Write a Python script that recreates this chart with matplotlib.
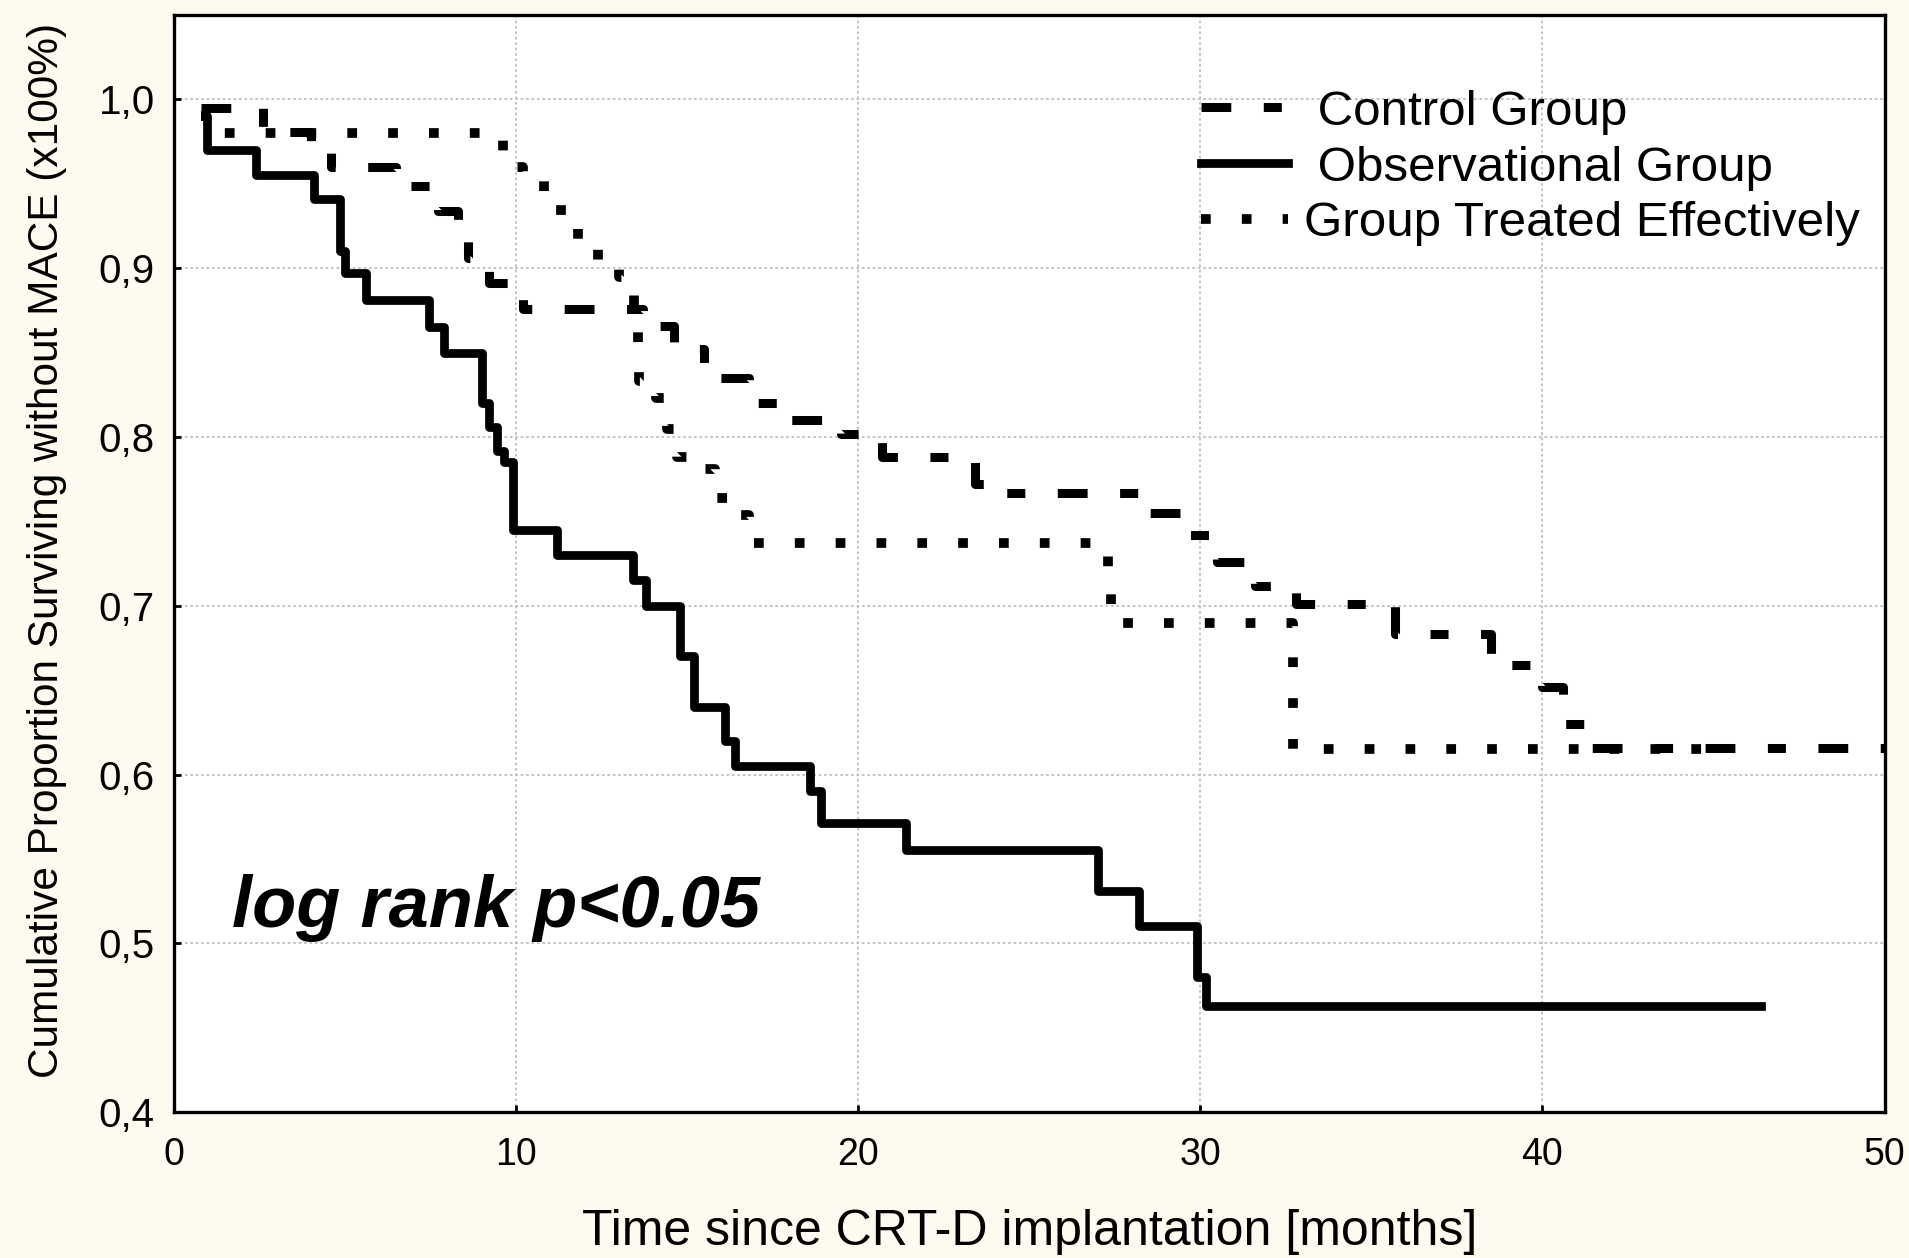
import matplotlib
matplotlib.use('Agg')
import matplotlib.pyplot as plt

plt.rcParams['font.family'] = ['Liberation Sans', 'DejaVu Sans']

# Observational Group (solid)
obs_t = [0.9, 0.95, 2.4, 4.1, 4.85, 5.0, 5.6, 7.45, 7.9, 9.0, 9.2, 9.45, 9.65, 9.9,
         11.2, 13.4, 13.8, 14.8, 15.2, 16.1, 16.4, 18.6, 18.9, 21.4, 27.0, 28.2,
         29.9, 30.15, 46.4]
obs_v = [0.99, 0.97, 0.955, 0.941, 0.91, 0.897, 0.881, 0.865, 0.85, 0.82, 0.806,
         0.792, 0.785, 0.745, 0.73, 0.715, 0.70, 0.67, 0.64, 0.62, 0.605, 0.59,
         0.571, 0.555, 0.531, 0.51, 0.48, 0.463, 0.463]

# Control Group (dash-dot)
ctrl_t = [0.8, 2.6, 4.0, 4.6, 6.5, 7.7, 8.3, 8.6, 9.2, 10.2, 13.7, 14.6, 15.5,
          16.8, 17.8, 19.5, 20.7, 23.4, 24.0, 28.2, 29.5, 30.5, 31.6, 32.8,
          35.7, 38.5, 40.0, 40.6, 41.2, 50.0]
ctrl_v = [0.995, 0.981, 0.97, 0.96, 0.949, 0.934, 0.92, 0.906, 0.891, 0.876,
          0.866, 0.852, 0.835, 0.82, 0.81, 0.802, 0.788, 0.772, 0.767, 0.755,
          0.742, 0.726, 0.712, 0.701, 0.683, 0.665, 0.652, 0.63, 0.616, 0.616]

# Group Treated Effectively (dotted)
trt_t = [0.8, 1.2, 9.6, 10.2, 10.8, 11.3, 11.8, 12.4, 13.0, 13.45, 13.55, 13.6,
         14.1, 14.4, 14.7, 15.4, 15.8, 16.4, 16.8, 27.3, 27.4, 32.7, 44.9]
trt_v = [0.99, 0.98, 0.96, 0.953, 0.94, 0.928, 0.915, 0.903, 0.895, 0.875, 0.856,
         0.833, 0.823, 0.805, 0.788, 0.781, 0.764, 0.754, 0.737, 0.711, 0.69,
         0.615, 0.615]

xticks = [0, 10, 20, 30, 40, 50]
yticks = [0.4, 0.5, 0.6, 0.7, 0.8, 0.9, 1.0]
ylabels = ['0,4', '0,5', '0,6', '0,7', '0,8', '0,9', '1,0']

bg = '#FFFAEF'
fig = plt.figure(figsize=(19.09, 12.58), dpi=100, facecolor=bg)
ax = fig.add_axes([0.0912, 0.116, 0.896, 0.872])
ax.set_facecolor('white')

ax.step(ctrl_t, ctrl_v, where='post', color='black', lw=6.5,
        linestyle=(0, (3.3, 3.6, 2.0, 3.6)), label=' Control Group')
ax.step(obs_t, obs_v, where='post', color='black', lw=6.3,
        label=' Observational Group')
ax.step(trt_t, trt_v, where='post', color='black', lw=7,
        linestyle=(0, (1.0, 3.2)), label='Group Treated Effectively')

ax.set_xlim(0, 50)
ax.set_ylim(0.4, 1.05)
ax.set_xticks(xticks)
ax.set_yticks(yticks)
ax.set_yticklabels(ylabels)
ax.grid(True, color='#c0c0c0', linestyle=(0, (1.5, 1.5)), lw=1.3)
ax.set_axisbelow(True)
for s in ax.spines.values():
    s.set_linewidth(2.4)
ax.tick_params(direction='in', length=5, width=2)
ax.tick_params(axis='x', pad=18, labelsize=27)
ax.tick_params(axis='y', pad=14, labelsize=29)

ax.set_xlabel('Time since CRT-D implantation [months]', fontsize=36, labelpad=26)
ax.set_ylabel('Cumulative Proportion Surviving without MACE (x100%)', fontsize=30.5)
ax.yaxis.set_label_coords(-0.0626, 0.512)

ax.text(1.7, 0.521, 'log rank p<0.05', fontsize=52, fontweight='bold',
        fontstyle='italic', va='center', ha='left')

ax.legend(loc='upper right', frameon=False, fontsize=35.5, handlelength=1.75,
          handletextpad=0.33, labelspacing=0.22, borderaxespad=0, borderpad=0,
          bbox_to_anchor=(0.9854, 0.932))

fig.savefig('out.png', dpi=100, facecolor=bg)
